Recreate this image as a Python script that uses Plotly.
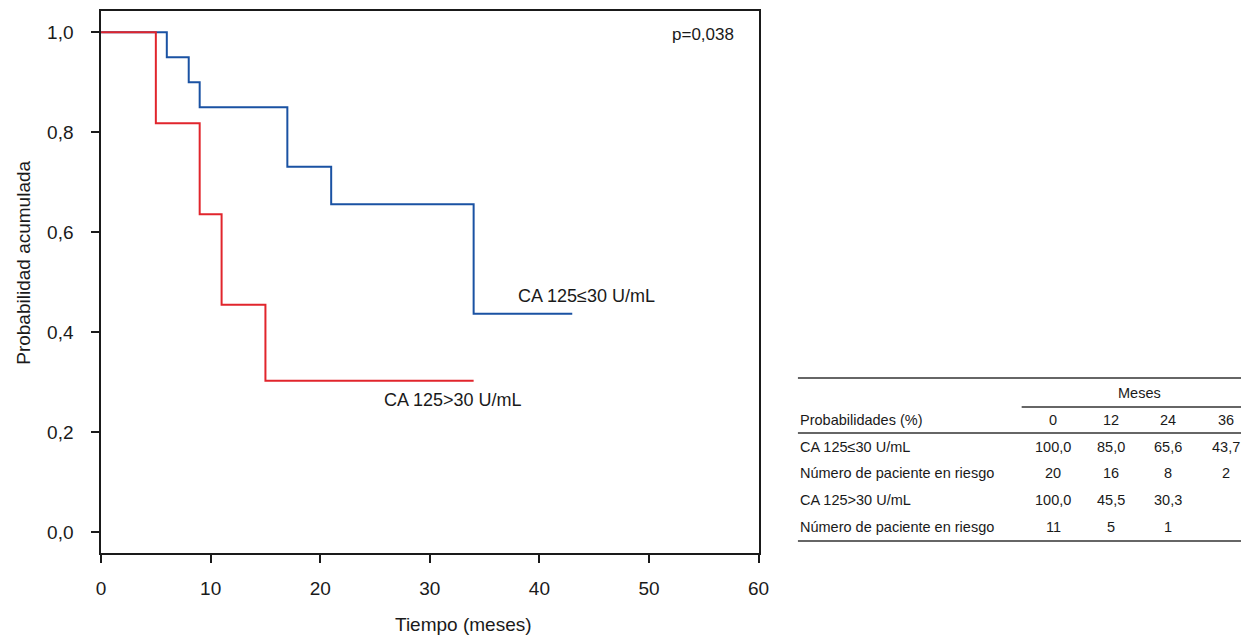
import plotly.graph_objects as go

# ---------------- data ----------------
blue_time = [0, 6, 8, 9, 17, 21, 34, 43]
blue_surv = [1.0, 0.95, 0.90, 0.85, 0.731, 0.656, 0.437, 0.437]
red_time = [0, 5, 9, 11, 15, 34]
red_surv = [1.0, 0.818, 0.636, 0.455, 0.303, 0.303]

blue_label = "CA 125≤30 U/mL"
red_label = "CA 125>30 U/mL"
p_text = "p=0,038"

x_ticks = [0, 10, 20, 30, 40, 50, 60]
y_ticks = [0.0, 0.2, 0.4, 0.6, 0.8, 1.0]
y_ticktext = ["0,0", "0,2", "0,4", "0,6", "0,8", "1,0"]

table_months = ["0", "12", "24", "36"]
table_group_header = "Meses"
table_header_label = "Probabilidades (%)"
table_row_labels = ["CA 125≤30 U/mL", "Número de paciente en riesgo",
                    "CA 125>30 U/mL", "Número de paciente en riesgo"]
prob_low = ["100,0", "85,0", "65,6", "43,7"]
risk_low = ["20", "16", "8", "2"]
prob_high = ["100,0", "45,5", "30,3", ""]
risk_high = ["11", "5", "1", ""]
table_values = [prob_low, risk_low, prob_high, risk_high]

# ---------------- styling ----------------
W, H = 1252, 635
BLUE = "#1a52a3"
RED = "#e1252c"
FONT = "Liberation Sans, Arial, sans-serif"
NARROW = "Liberation Sans Narrow, Arial Narrow, Liberation Sans, Arial, sans-serif"
TXT = "#1a1a1a"

def px_x(p):
    return p / W

def px_y(p):
    return 1 - p / H

fig = go.Figure()

fig.add_trace(go.Scatter(x=blue_time, y=blue_surv, mode="lines", line_shape="hv",
                         line=dict(color=BLUE, width=2), showlegend=False, hoverinfo="skip"))
fig.add_trace(go.Scatter(x=red_time, y=red_surv, mode="lines", line_shape="hv",
                         line=dict(color=RED, width=2), showlegend=False, hoverinfo="skip"))

annotations = []
annotations.append(dict(x=37.84, y=0.4726, xref="x", yref="y", text=blue_label, showarrow=False,
                        xanchor="left", yanchor="middle", font=dict(family=FONT, size=18, color=TXT)))
annotations.append(dict(x=25.68, y=0.2646, xref="x", yref="y", text=red_label, showarrow=False,
                        xanchor="left", yanchor="middle", font=dict(family=FONT, size=18, color=TXT)))
annotations.append(dict(x=51.9, y=0.9966, xref="x", yref="y", text=p_text, showarrow=False,
                        xanchor="left", yanchor="middle", font=dict(family=FONT, size=17, color=TXT)))
# axis titles
annotations.append(dict(x=px_x(464), y=px_y(624), xref="paper", yref="paper", text="Tiempo (meses)",
                        showarrow=False, xanchor="center", yanchor="middle",
                        font=dict(family=FONT, size=19, color=TXT)))
annotations.append(dict(x=px_x(18), y=px_y(263), xref="paper", yref="paper", text="Probabilidad acumulada",
                        showarrow=False, xanchor="center", yanchor="middle", textangle=-90,
                        font=dict(family=FONT, size=19, color=TXT)))

# ---------------- table (on its own invisible axes x2/y2) ----------------
tfont = dict(family=NARROW, size=14.5, color=TXT)
LABEL_X = -4.44
RIGHT_X = 3.26
annotations.append(dict(x=1.5, y=0, xref="x2", yref="y2", text=table_group_header, showarrow=False,
                        xanchor="center", yanchor="middle", font=tfont))
annotations.append(dict(x=LABEL_X, y=1, xref="x2", yref="y2", text=table_header_label, showarrow=False,
                        xanchor="left", yanchor="middle", font=tfont))
for ci, m in enumerate(table_months):
    annotations.append(dict(x=ci, y=1, xref="x2", yref="y2", text=m, showarrow=False,
                            xanchor="center", yanchor="middle", font=tfont))
for ri, (lab, vals) in enumerate(zip(table_row_labels, table_values)):
    r = ri + 2
    annotations.append(dict(x=LABEL_X, y=r, xref="x2", yref="y2", text=lab, showarrow=False,
                            xanchor="left", yanchor="middle", font=tfont))
    for ci, v in enumerate(vals):
        if v:
            annotations.append(dict(x=ci, y=r, xref="x2", yref="y2", text=v, showarrow=False,
                                    xanchor="center", yanchor="middle", font=tfont))

line_style = dict(color="#333333", width=1.5)
shapes = [
    dict(type="line", xref="x2", yref="y2", x0=LABEL_X, x1=RIGHT_X, y0=-0.56, y1=-0.56, line=line_style),
    dict(type="line", xref="x2", yref="y2", x0=-0.55, x1=RIGHT_X, y0=0.52, y1=0.52, line=line_style),
    dict(type="line", xref="x2", yref="y2", x0=LABEL_X, x1=RIGHT_X, y0=1.49, y1=1.49, line=line_style),
    dict(type="line", xref="x2", yref="y2", x0=LABEL_X, x1=RIGHT_X, y0=5.52, y1=5.52, line=line_style),
]

axis_common = dict(showgrid=False, zeroline=False, showline=True, linecolor="#1a1a1a", linewidth=1.5,
                   mirror=True, ticks="outside", ticklen=8, tickwidth=1.5, tickcolor="#1a1a1a",
                   tickfont=dict(family=FONT, size=19, color=TXT))

fig.update_layout(
    width=W, height=H,
    margin=dict(l=0, r=0, t=0, b=0),
    paper_bgcolor="white", plot_bgcolor="white",
    xaxis=dict(domain=[px_x(97.3), px_x(763.3)], range=[0, 60], tickvals=x_ticks,
               ticklabelstandoff=9, **axis_common),
    yaxis=dict(domain=[px_y(553.3), px_y(11)], range=[-0.042, 1.0426], tickvals=y_ticks,
               ticktext=y_ticktext, ticklabelstandoff=14, **axis_common),
    xaxis2=dict(domain=[px_x(803), px_x(1252)], range=[LABEL_X, RIGHT_X], visible=False, anchor="y2"),
    yaxis2=dict(domain=[px_y(550), px_y(370)], range=[5.86, -0.86], visible=False, anchor="x2"),
    annotations=annotations,
    shapes=shapes,
    showlegend=False,
)

fig.write_html("out.html", config={"displayModeBar": False},
               post_script="document.body.style.margin='0';document.body.style.overflow='hidden';")
